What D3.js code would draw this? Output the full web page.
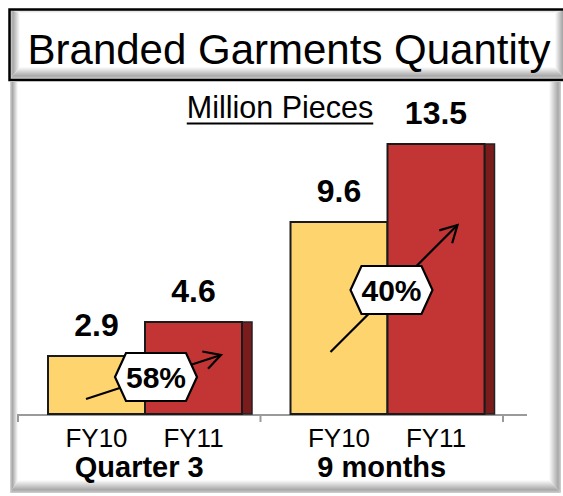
<!DOCTYPE html>
<html>
<head>
<meta charset="utf-8">
<script src="https://cdn.jsdelivr.net/npm/d3@7.9.0/dist/d3.min.js"></script>
<style>
  html, body { margin: 0; padding: 0; background: #fff; }
  svg { display: block; font-family: "Liberation Sans", Arial, sans-serif; }
</style>
</head>
<body>
<svg id="chart" width="563" height="496"></svg>
<script>
const groups = ['Quarter 3', '9 months'];
const series = ['FY10', 'FY11'];
const fy10 = [2.9, 9.6];
const fy11 = [4.6, 13.5];
const growth = ['58%', '40%'];
// arrow start / end and badge centre: [offset inside the group band, value]
const arrowFrom = [[68, 0.75], [70, 3.1]];
const arrowTo = [[203, 2.95], [197, 9.45]];
const badgeAt = [[138, 1.85], [131, 6.2]];

const colors = { FY10: '#fdd46e', FY11: '#c33535' };
const sideColor = '#7a1c1c';

const svg = d3.select('#chart');
const defs = svg.append('defs');

function grad(id, x2, y2, stops) {
    const g = defs.append('linearGradient').attr('id', id)
        .attr('x1', 0).attr('y1', 0).attr('x2', x2).attr('y2', y2);
    stops.forEach(([o, c]) => g.append('stop').attr('offset', o).attr('stop-color', c));
}
grad('bv-left', 1, 0, [[0, '#d8d8d8'], [0.3, '#a8a8a8'], [1, '#ffffff']]);
grad('bv-right', 1, 0, [[0, '#ffffff'], [0.75, '#a8a8a8'], [1, '#d0d0d0']]);
grad('bv-bottom', 0, 1, [[0, '#ffffff'], [0.75, '#a8a8a8'], [1, '#d0d0d0']]);
grad('bv-top', 0, 1, [[0, '#c8c8c8'], [1, '#ffffff']]);

// bevelled frame: four trapezoids
function bevel(x, y, w, h, t) {
    const [l, r, tp, b] = t;
    const g = svg.append('g');
    g.append('rect').attr('x', x).attr('y', y).attr('width', w).attr('height', h).attr('fill', '#fff');
    g.append('polygon').attr('fill', 'url(#bv-top)')
        .attr('points', [[x, y], [x + w, y], [x + w - r, y + tp], [x + l, y + tp]].join(' '));
    g.append('polygon').attr('fill', 'url(#bv-left)')
        .attr('points', [[x, y], [x + l, y + tp], [x + l, y + h - b], [x, y + h]].join(' '));
    g.append('polygon').attr('fill', 'url(#bv-right)')
        .attr('points', [[x + w, y], [x + w, y + h], [x + w - r, y + h - b], [x + w - r, y + tp]].join(' '));
    g.append('polygon').attr('fill', 'url(#bv-bottom)')
        .attr('points', [[x, y + h], [x + l, y + h - b], [x + w - r, y + h - b], [x + w, y + h]].join(' '));
    return g;
}

// main panel and title box
bevel(10, 82, 551, 411, [8, 12, 0, 13]);
bevel(10, 10, 555, 69, [10, 10, 3, 12]);
svg.append('rect').attr('x', 9.5).attr('y', 9.5).attr('width', 570).attr('height', 70.5)
    .attr('fill', 'none').attr('stroke', '#000').attr('stroke-width', 2.5);

svg.append('text').attr('x', 289).attr('y', 64).attr('text-anchor', 'middle')
    .attr('font-size', 42).attr('fill', '#000').text('Branded Garments Quantity');

// unit caption
const unit = svg.append('text').attr('x', 280).attr('y', 118).attr('text-anchor', 'middle')
    .attr('font-size', 30.5).attr('fill', '#000').text('Million Pieces');
const ub = unit.node().getBBox();
svg.append('line').attr('x1', ub.x).attr('x2', ub.x + ub.width).attr('y1', 123.5).attr('y2', 123.5)
    .attr('stroke', '#000').attr('stroke-width', 2.2);

// scales
const y = d3.scaleLinear().domain([0, 14]).range([414, 134]);
const x0 = d3.scaleBand().domain(groups).range([18, 503]);
const x1 = d3.scaleBand().domain(series).range([30, 224]);

const rows = groups.map((g, i) => ({ group: g, values: [fy10[i], fy11[i]], i }));

// axis line and ticks
svg.append('line').attr('x1', 17).attr('x2', 527).attr('y1', y(0) + 1).attr('y2', y(0) + 1)
    .attr('stroke', '#9a9a9a').attr('stroke-width', 2.2);
const tickXs = groups.map(g => x0(g)).concat([x0(groups[groups.length - 1]) + x0.bandwidth()]);
svg.selectAll('.tick').data(tickXs).join('line')
    .attr('x1', d => d).attr('x2', d => d).attr('y1', y(0)).attr('y2', y(0) + 8)
    .attr('stroke', '#9a9a9a').attr('stroke-width', 2);

const gs = svg.selectAll('.grp').data(rows).join('g')
    .attr('transform', d => `translate(${x0(d.group)},0)`);

// dark side of FY11 bar (3D depth)
gs.append('rect')
    .attr('x', x1('FY11') + x1.bandwidth()).attr('width', 10)
    .attr('y', d => y(d.values[1])).attr('height', d => y(0) - y(d.values[1]))
    .attr('fill', sideColor).attr('stroke', '#222').attr('stroke-width', 1.5);

gs.selectAll('.bar').data(d => d.values.map((v, k) => ({ s: series[k], v }))).join('rect')
    .attr('x', d => x1(d.s)).attr('width', x1.bandwidth())
    .attr('y', d => y(d.v)).attr('height', d => y(0) - y(d.v))
    .attr('fill', d => colors[d.s]).attr('stroke', '#1a1a1a').attr('stroke-width', 2);

// value labels
gs.selectAll('.val').data(d => d.values.map((v, k) => ({ s: series[k], v }))).join('text')
    .attr('x', d => x1(d.s) + x1.bandwidth() / 2).attr('y', d => y(d.v) - 20)
    .attr('text-anchor', 'middle').attr('font-size', 32).attr('font-weight', 'bold')
    .text(d => d3.format('.1f')(d.v));

// series labels under axis
gs.selectAll('.lab').data(series).join('text')
    .attr('x', s => x1(s) + x1.bandwidth() / 2).attr('y', 447)
    .attr('text-anchor', 'middle').attr('font-size', 26).text(s => s);

// group labels
gs.append('text').attr('x', x0.bandwidth() / 2).attr('y', 477)
    .attr('text-anchor', 'middle').attr('font-size', 29).attr('font-weight', 'bold')
    .text(d => d.group);

// growth arrows
gs.append('line')
    .attr('x1', d => arrowFrom[d.i][0]).attr('y1', d => y(arrowFrom[d.i][1]))
    .attr('x2', d => arrowTo[d.i][0]).attr('y2', d => y(arrowTo[d.i][1]))
    .attr('stroke', '#000').attr('stroke-width', 2.2);
gs.append('path')
    .attr('d', d => {
        const ax = arrowFrom[d.i][0], ay = y(arrowFrom[d.i][1]);
        const bx = arrowTo[d.i][0], by = y(arrowTo[d.i][1]);
        const a = Math.atan2(by - ay, bx - ax), L = 19, s = 0.5;
        const p1 = [bx - L * Math.cos(a - s), by - L * Math.sin(a - s)];
        const p2 = [bx - L * Math.cos(a + s), by - L * Math.sin(a + s)];
        return `M${p1}L${bx},${by}L${p2}`;
    })
    .attr('fill', 'none').attr('stroke', '#000').attr('stroke-width', 2.2);

// hexagon badges
const hw = 41, hh = 24, hi = 11;
const badge = gs.append('g')
    .attr('transform', d => `translate(${badgeAt[d.i][0]},${y(badgeAt[d.i][1])})`);
badge.append('polygon')
    .attr('points', [[-hw, 0], [-hw + hi, -hh], [hw - hi, -hh], [hw, 0], [hw - hi, hh], [-hw + hi, hh]].join(' '))
    .attr('fill', '#fff').attr('stroke', '#000').attr('stroke-width', 2.2);
badge.append('text').attr('y', 10.5).attr('text-anchor', 'middle')
    .attr('font-size', 30).attr('font-weight', 'bold').text(d => growth[d.i]);
</script>
</body>
</html>
